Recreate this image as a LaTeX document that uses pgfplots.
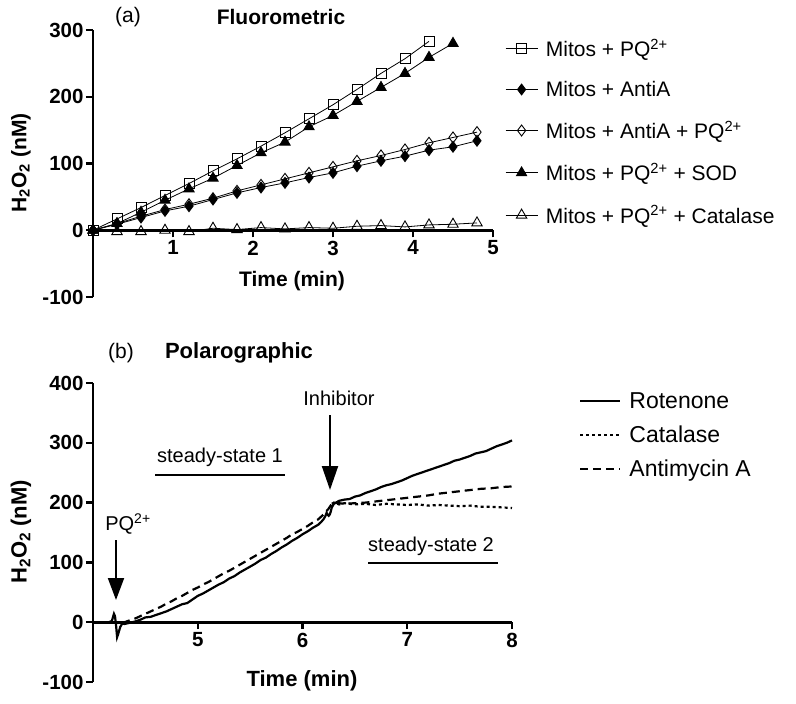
\documentclass[border=0pt]{standalone}
\usepackage{pgfplots}
\pgfplotsset{compat=1.18}
\usepackage{fontspec}
\setmainfont{Liberation Sans}
\usetikzlibrary{arrows.meta}
\newcommand{\fs}[1]{\fontsize{#1}{#1}\selectfont}
\pgfplotsset{
  myaxis/.style={
    scale only axis, clip=false,
    axis x line*=middle, axis y line*=left,
    axis line style={line width=2.6pt,-},
    tick style={line width=2.4pt,black},
    tick align=outside, major tick length=7pt,
    /pgf/number format/assume math mode=true,
    minor tick num=0,
    tick label style={font=\fs{20.5}\bfseries},
    yticklabel style={xshift=1pt},
  },
}
\begin{document}
\begin{tikzpicture}
\useasboundingbox (0pt,0pt) rectangle (796pt,-704pt);
% ---------------- top panel
\begin{axis}[myaxis,
  at={(93pt,-297pt)}, anchor=south west,
  width=400pt, height=267pt,
  xmin=0, xmax=5, ymin=-100, ymax=300,
  xtick={1,2,3,4,5}, ytick={-100,0,100,200,300},
  legend style={at={(1.03,0.975)}, anchor=north west, draw=none, fill=none,
    font=\fs{21}, row sep=19pt, inner sep=0pt},
  legend cell align=left,
  legend image code/.code={\draw[mark repeat=2,mark phase=2] plot coordinates {(0pt,0pt) (16pt,0pt) (32pt,0pt)};\path (38pt,0pt);},
  every axis plot/.append style={line width=0.8pt, black},
]
\addplot[mark=square, mark size=5pt, mark options={fill=white,line width=0.9pt}] coordinates {
(0,0) (0.3,17) (0.6,34) (0.9,52) (1.2,70) (1.5,89) (1.8,107) (2.1,126) (2.4,146) (2.7,167) (3.0,188) (3.3,211) (3.6,235) (3.9,257) (4.2,283)};
\addlegendentry{Mitos + PQ\textsuperscript{2+}}
\addplot[mark=diamond*, mark size=5.5pt, mark options={fill=black}] coordinates {
(0,0) (0.3,9) (0.6,19) (0.9,29) (1.2,36) (1.5,46) (1.8,56) (2.1,64) (2.4,71) (2.7,79) (3.0,86) (3.3,96) (3.6,104) (3.9,111) (4.2,120) (4.5,125) (4.8,134)};
\addlegendentry{Mitos + AntiA}
\addplot[mark=diamond, mark size=5.5pt, mark options={fill=white,line width=0.9pt}] coordinates {
(0,0) (0.3,10) (0.6,21) (0.9,31) (1.2,39) (1.5,48) (1.8,59) (2.1,68) (2.4,77) (2.7,86) (3.0,95) (3.3,104) (3.6,112) (3.9,121) (4.2,131) (4.5,139) (4.8,147)};
\addlegendentry{Mitos + AntiA + PQ\textsuperscript{2+}}
\addplot[mark=triangle*, mark size=6pt, mark options={fill=black}] coordinates {
(0,0) (0.3,10) (0.6,27) (0.9,45) (1.2,62) (1.5,78) (1.8,97) (2.1,116) (2.4,132) (2.7,155) (3.0,172) (3.3,193) (3.6,214) (3.9,235) (4.2,259) (4.5,280)};
\addlegendentry{Mitos + PQ\textsuperscript{2+} + SOD}
\addplot[mark=triangle, mark size=6pt, mark options={fill=white,line width=0.9pt}] coordinates {
(0,0) (0.3,-2) (0.6,-2) (0.9,0) (1.2,-2) (1.5,3) (1.8,1) (2.1,4) (2.4,2) (2.7,4) (3.0,3) (3.3,6) (3.6,7) (3.9,5) (4.2,8) (4.5,9) (4.8,11)};
\addlegendentry{Mitos + PQ\textsuperscript{2+} + Catalase}
\end{axis}
\node[font=\fs{21}] at (128pt,-17pt) {(a)};
\node[font=\fs{21}\bfseries] at (281pt,-17pt) {Fluorometric};
\node[font=\fs{21}\bfseries] at (292pt,-281pt) {Time (min)};
\node[font=\fs{21}\bfseries, rotate=90] at (21pt,-163pt) {H\textsubscript{2}O\textsubscript{2} (nM)};
% ---------------- bottom panel
\begin{axis}[myaxis,
  at={(93pt,-682pt)}, anchor=south west,
  width=419pt, height=299pt,
  xmin=4, xmax=8, ymin=-100, ymax=400,
  xtick={5,6,7,8}, ytick={-100,0,100,200,300,400},
  legend style={at={(1.16,0.975)}, anchor=north west, draw=none, fill=none,
    font=\fs{23}, row sep=12pt, inner sep=0pt},
  legend cell align=left,
  legend image code/.code={\draw (0pt,0pt) -- (40pt,0pt); \path (46pt,0pt);},
  every axis plot/.append style={line width=2.2pt, black, no markers},
]
\addplot[solid] coordinates {
(4.00,0) (4.05,0) (4.10,-1) (4.15,0) (4.18,2) (4.20,14) (4.21,10) (4.22,-5) (4.23,-25) (4.24,-20) (4.26,-8) (4.28,-2) (4.30,-3) (4.35,-1) (4.40,1) (4.45,4) (4.50,8) (4.55,9) (4.60,12) (4.65,15) (4.70,18) (4.75,22) (4.80,26) (4.85,30) (4.90,32) (4.95,38) (5.00,44) (5.05,48) (5.10,53) (5.15,58) (5.20,63) (5.25,67) (5.30,73) (5.35,77) (5.40,83) (5.45,88) (5.50,93) (5.55,98) (5.60,104) (5.65,108) (5.70,114) (5.75,119) (5.80,125) (5.85,130) (5.90,136) (5.95,141) (6.00,147) (6.05,152) (6.10,158) (6.15,163) (6.18,168) (6.20,172) (6.22,178) (6.23,183) (6.24,180) (6.25,178) (6.26,180) (6.27,185) (6.28,192) (6.30,198) (6.32,200) (6.35,203) (6.40,205) (6.45,206) (6.50,210) (6.55,212) (6.60,216) (6.65,219) (6.70,222) (6.75,226) (6.80,229) (6.85,231) (6.90,234) (6.95,237) (7.00,241) (7.05,245) (7.10,248) (7.15,251) (7.20,254) (7.25,257) (7.30,260) (7.35,263) (7.40,266) (7.45,270) (7.50,272) (7.55,275) (7.60,278) (7.65,282) (7.70,284) (7.75,286) (7.80,290) (7.85,294) (7.90,297) (7.95,300) (8.00,304)};
\addlegendentry{Rotenone}
\addplot[dash pattern=on 3pt off 3pt] coordinates {
(6.28,198) (6.30,200) (6.35,197) (6.40,199) (6.50,197) (6.60,198) (6.70,196) (6.80,198) (6.90,197) (7.00,196) (7.10,197) (7.20,195) (7.30,196) (7.40,195) (7.50,194) (7.60,195) (7.70,193) (7.80,193) (7.90,192) (8.00,191)};
\addlegendentry{Catalase}
\addplot[dash pattern=on 8pt off 5pt] coordinates {
(4.28,-2) (4.30,0) (4.35,3) (4.40,6) (4.45,10) (4.50,14) (4.55,18) (4.60,22) (4.65,26) (4.70,31) (4.75,35) (4.80,40) (4.85,44) (4.90,49) (4.95,54) (5.00,58) (5.05,63) (5.10,67) (5.15,72) (5.20,77) (5.25,82) (5.30,86) (5.35,91) (5.40,96) (5.45,101) (5.50,106) (5.55,111) (5.60,116) (5.65,121) (5.70,126) (5.75,131) (5.80,136) (5.85,141) (5.90,147) (5.95,151) (6.00,156) (6.05,161) (6.10,167) (6.15,172) (6.20,180) (6.25,190) (6.28,198) (6.30,200) (6.35,199) (6.40,198) (6.50,199) (6.60,200) (6.70,202) (6.80,204) (6.90,206) (7.00,208) (7.10,210) (7.20,212) (7.30,215) (7.40,217) (7.50,219) (7.60,221) (7.70,223) (7.80,224) (7.90,226) (8.00,227)};
\addlegendentry{Antimycin A}
\end{axis}
\node[font=\fs{21}] at (121pt,-353pt) {(b)};
\node[font=\fs{22}\bfseries] at (239pt,-353pt) {Polarographic};
\node[font=\fs{22}\bfseries] at (302pt,-681pt) {Time (min)};
\node[font=\fs{22}\bfseries, rotate=90] at (21pt,-532pt) {H\textsubscript{2}O\textsubscript{2} (nM)};
\node[font=\fs{20}] at (128pt,-524pt) {PQ\textsuperscript{2+}};
\draw[line width=2pt, -{Triangle[width=16pt,length=22pt]}] (116pt,-540pt) -- (116pt,-600pt);
\node[font=\fs{20}] at (339pt,-398pt) {Inhibitor};
\draw[line width=2pt, -{Triangle[width=16pt,length=24pt]}] (330pt,-415pt) -- (330pt,-490pt);
\node[font=\fs{20}] at (220pt,-457pt) {steady-state 1};
\draw[line width=2pt] (155pt,-475pt) -- (285pt,-475pt);
\node[font=\fs{20}] at (431pt,-546pt) {steady-state 2};
\draw[line width=2pt] (368pt,-563pt) -- (498pt,-563pt);
\end{tikzpicture}
\end{document}
